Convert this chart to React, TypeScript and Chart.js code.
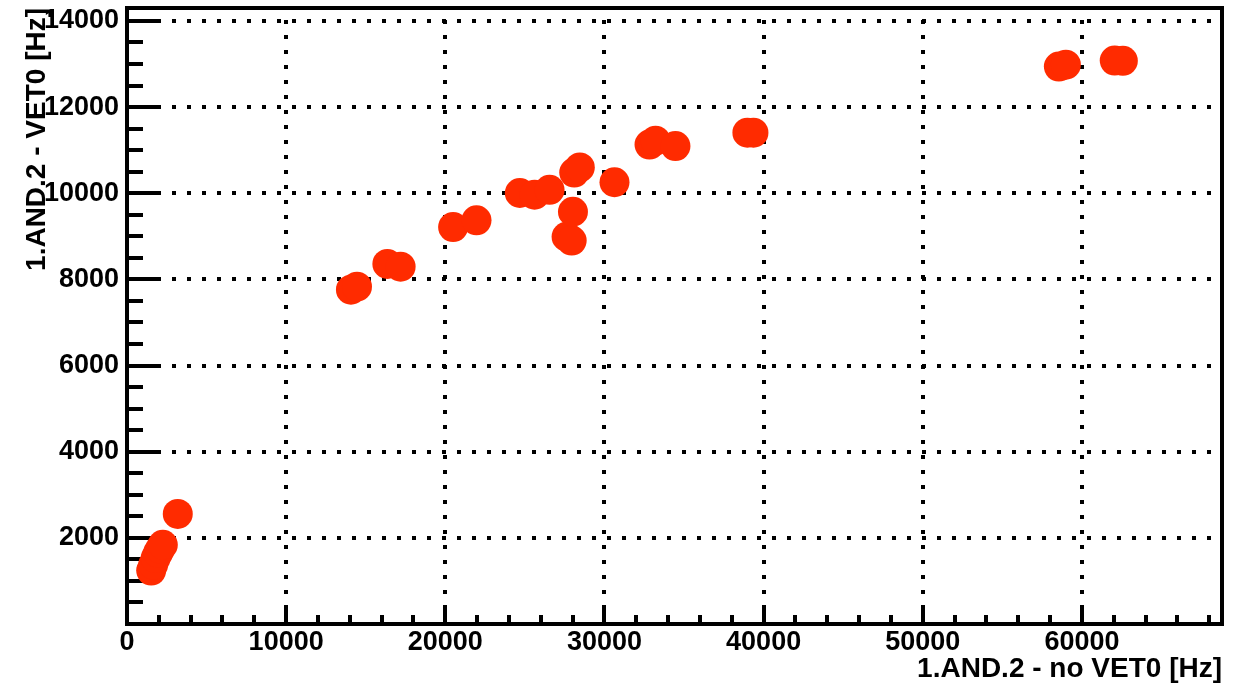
import React, { useEffect, useRef } from "react";
import { Chart, registerables } from "chart.js";

Chart.register(...registerables);

// Data
const xValues = [
  1520, 1650, 1800, 1950, 2100, 2250, 3190,
  14070, 14450, 16360, 17190, 20490, 21960,
  24680, 25610, 26550, 27620, 27940, 28020, 28100, 28450,
  30630, 32830, 33210, 34460, 38980, 39360,
  58550, 58990, 62060, 62570,
];
const yValues = [
  1240, 1380, 1530, 1650, 1750, 1840, 2555,
  7760, 7830, 8360, 8295, 9215, 9370,
  10005, 9965, 10080, 8990, 8900, 9570, 10480, 10600,
  10255, 11130, 11220, 11095, 11405, 11405,
  12940, 12985, 13080, 13075,
];

const xTickValues = [0, 10000, 20000, 30000, 40000, 50000, 60000];
const yTickValues = [2000, 4000, 6000, 8000, 10000, 12000, 14000];
const xMinorStep = 2000;
const yMinorStep = 500;
const xMin = 0;
const xMax = 68800;
const yMin = 0;
const yMax = 14300;

const xTitle = "1.AND.2 - no VET0 [Hz]";
const yTitle = "1.AND.2 - VET0 [Hz]";

const markerColor = "rgb(255, 43, 0)";
const fontFamily = "'Liberation Sans', Arial, Helvetica, sans-serif";

const frameGridPlugin = {
  id: "rootFrame",
  beforeDatasetsDraw(chart: any) {
    const { ctx, chartArea } = chart;
    const xs = chart.scales.x;
    const ys = chart.scales.y;
    const { left, right, top, bottom } = chartArea;
    ctx.save();
    ctx.strokeStyle = "#000";
    ctx.lineWidth = 4;
    ctx.lineCap = "butt";
    ctx.setLineDash([4, 11]);
    // vertical grid
    xTickValues.forEach((v) => {
      if (v === xMin) return;
      const px = Math.round(xs.getPixelForValue(v));
      ctx.beginPath();
      ctx.moveTo(px, bottom);
      ctx.lineTo(px, top);
      ctx.stroke();
    });
    // horizontal grid
    yTickValues.forEach((v) => {
      const py = Math.round(ys.getPixelForValue(v));
      ctx.beginPath();
      ctx.moveTo(left, py);
      ctx.lineTo(right, py);
      ctx.stroke();
    });
    ctx.setLineDash([]);
    // ticks on x axis (inside)
    for (let v = xMin; v <= xMax; v += xMinorStep) {
      const px = Math.round(xs.getPixelForValue(v));
      const major = v % 10000 === 0;
      const len = major ? 18 : 9;
      ctx.beginPath();
      ctx.moveTo(px, bottom);
      ctx.lineTo(px, bottom - len);
      ctx.stroke();
    }
    // ticks on y axis (inside)
    for (let v = yMinorStep; v <= yMax; v += yMinorStep) {
      const py = Math.round(ys.getPixelForValue(v));
      const major = v % 2000 === 0;
      const len = major ? 33 : 16;
      ctx.beginPath();
      ctx.moveTo(left, py);
      ctx.lineTo(left + len, py);
      ctx.stroke();
    }
    // frame
    ctx.strokeRect(left, top, right - left, bottom - top);
    ctx.restore();
  },
};

export default function App() {
  const canvasRef = useRef<HTMLCanvasElement | null>(null);

  useEffect(() => {
    const canvas = canvasRef.current;
    if (!canvas) return;
    const points = xValues.map((x, i) => ({ x, y: yValues[i] }));
    const xTickFont = { family: fontFamily, size: 27, weight: "bold" as const };
    const yTickFont = { family: fontFamily, size: 27, weight: "bold" as const };
    const titleFont = { family: fontFamily, size: 28, weight: "bold" as const };
    const chart = new Chart(canvas, {
      type: "scatter",
      data: {
        datasets: [
          {
            data: points,
            backgroundColor: markerColor,
            borderColor: markerColor,
            borderWidth: 0,
            pointRadius: 15,
            pointHoverRadius: 15,
          },
        ],
      },
      options: {
        animation: false,
        responsive: false,
        maintainAspectRatio: false,
        layout: { autoPadding: false, padding: { top: 8, right: 20, left: 0, bottom: 0 } },
        plugins: {
          legend: { display: false },
          tooltip: { enabled: false },
        },
        scales: {
          x: {
            type: "linear",
            min: xMin,
            max: xMax,
            afterBuildTicks: (s: any) => {
              s.ticks = xTickValues.map((v) => ({ value: v }));
            },
            afterFit: (s: any) => {
              s.height = 67;
              s.paddingLeft = 0;
              s.paddingRight = 0;
            },
            grid: { display: false, drawTicks: false },
            border: { display: false },
            ticks: {
              color: "#000",
              font: xTickFont,
              padding: 2,
              maxRotation: 0,
              autoSkip: false,
              callback: (v: any) => String(v),
            },
            title: {
              display: true,
              text: xTitle,
              align: "end",
              color: "#000",
              font: titleFont,
              padding: { top: 0, bottom: 5 },
            },
          },
          y: {
            type: "linear",
            min: yMin,
            max: yMax,
            afterBuildTicks: (s: any) => {
              s.ticks = yTickValues.map((v) => ({ value: v }));
            },
            afterFit: (s: any) => {
              s.width = 127;
              s.paddingTop = 0;
              s.paddingBottom = 0;
            },
            grid: { display: false, drawTicks: false },
            border: { display: false },
            ticks: {
              color: "#000",
              font: yTickFont,
              padding: 8,
              autoSkip: false,
              callback: (v: any) => String(v),
            },
            title: {
              display: true,
              text: yTitle,
              align: "end",
              color: "#000",
              font: titleFont,
              padding: { top: 20, bottom: 0 },
            },
          },
        },
      },
      plugins: [frameGridPlugin],
    } as any);
    return () => chart.destroy();
  }, []);

  return (
    <canvas
      ref={canvasRef}
      width={1242}
      height={691}
      style={{ position: "fixed", left: 0, top: 0, display: "block" }}
    />
  );
}
